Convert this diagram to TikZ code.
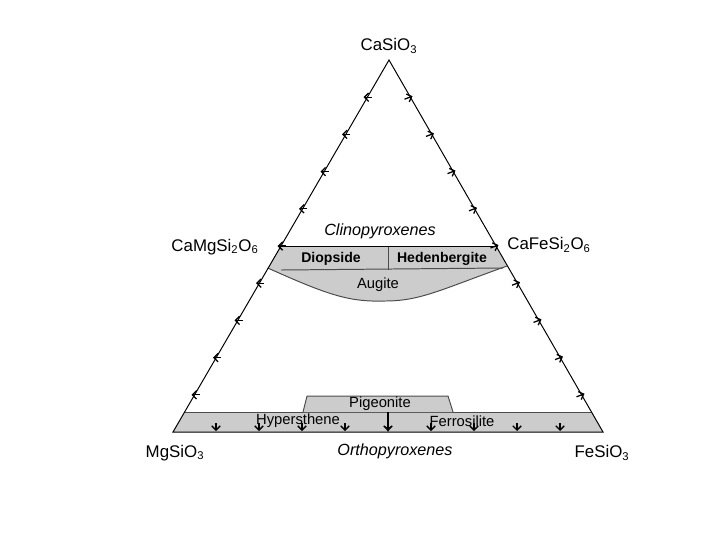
\documentclass[tikz,border=0pt]{standalone}
\usepackage{fontspec}
\setmainfont{Liberation Sans}
\usetikzlibrary{arrows.meta}
\definecolor{bandgray}{gray}{0.8}
\definecolor{edgegray}{gray}{0.3}
\tikzset{
  endmember/.style={font=\fontsize{12}{14}\selectfont},
  series/.style={font=\fontsize{11.5}{13}\selectfont\itshape},
  mineral/.style={font=\fontsize{10.5}{12}\selectfont},
  boldmineral/.style={font=\fontsize{10}{12}\selectfont\bfseries},
  tickmark/.style={-{Straight Barb[length=3pt,width=6pt]},line width=0.9pt}
}
\begin{document}
\begin{tikzpicture}[x=0.025cm,y=-0.025cm,>=stealth,line width=0.7pt]
	\useasboundingbox (0,0) rectangle (720,540);
	\coordinate (Ca) at (389,60);
	\coordinate (Mg) at (173,432);
	\coordinate (Fe) at (603,432);
	% clinopyroxene band
	\fill[bandgray] (280.5,246) -- (495.5,246) -- (507,266)
		.. controls (440,290) and (420,301) .. (385,301)
		.. controls (350,302) and (330,296) .. (267.8,268) -- cycle;
	\draw[edgegray] (267.8,268) .. controls (330,296) and (350,302) .. (385,301)
		.. controls (420,301) and (440,290) .. (507,266);
	\draw[edgegray] (281,270) -- (503,268);
	\draw[edgegray] (388,246) -- (388,270);
	\draw (280.5,246) -- (495.5,246);
	% orthopyroxene band
	\fill[bandgray] (184.6,412) -- (591.4,412) -- (Fe) -- (Mg) -- cycle;
	\draw[edgegray] (184.6,412) -- (591.4,412);
	\filldraw[fill=bandgray,draw=edgegray] (303,412) -- (307,396) -- (448,396) -- (453,412);
	% triangle
	\draw (Mg) -- (Ca) -- (Fe) -- cycle;
	% tick arrows
	\foreach \k in {1,...,9}{
		\draw[tickmark] ({173+21.5*\k+5},{432-37.2*\k}) -- ++(-8,0);
		\draw[tickmark] ({603-21.5*\k-5},{432-37.2*\k+2}) -- ++(8,-3);
		\draw[tickmark] ({173+43*\k},423) -- ++(0,8);
	}
	\coordinate (pigbase) at (388,412);
	\coordinate (opxbase) at (388,432);
	\draw[->,line width=0.9pt] (pigbase) -- (opxbase);
	% labels
	\node[endmember] (casio) at (389,46) {CaSiO\textsubscript{3}};
	\node[endmember] (di) at (215,247) {CaMgSi\textsubscript{2}O\textsubscript{6}};
	\node[endmember] (hd) at (549,245) {CaFeSi\textsubscript{2}O\textsubscript{6}};
	\node[endmember] (en) at (175,453) {MgSiO\textsubscript{3}};
	\node[endmember] (fs) at (602,453) {FeSiO\textsubscript{3}};
	\node[series] (cpx) at (380,231) {Clinopyroxenes};
	\node[series] (opx) at (395,451) {Orthopyroxenes};
	\node[boldmineral] (diopside) at (331,259) {Diopside};
	\node[boldmineral] (hedenbergite) at (442,259) {Hedenbergite};
	\node[mineral] (augite) at (378,285) {Augite};
	\node[mineral] (pigeonite) at (380,404) {Pigeonite};
	\node[mineral] (hypersthene) at (298,421) {Hypersthene};
	\node[mineral] (ferrosilite) at (462,421) {Ferrosilite};
\end{tikzpicture}
\end{document}
